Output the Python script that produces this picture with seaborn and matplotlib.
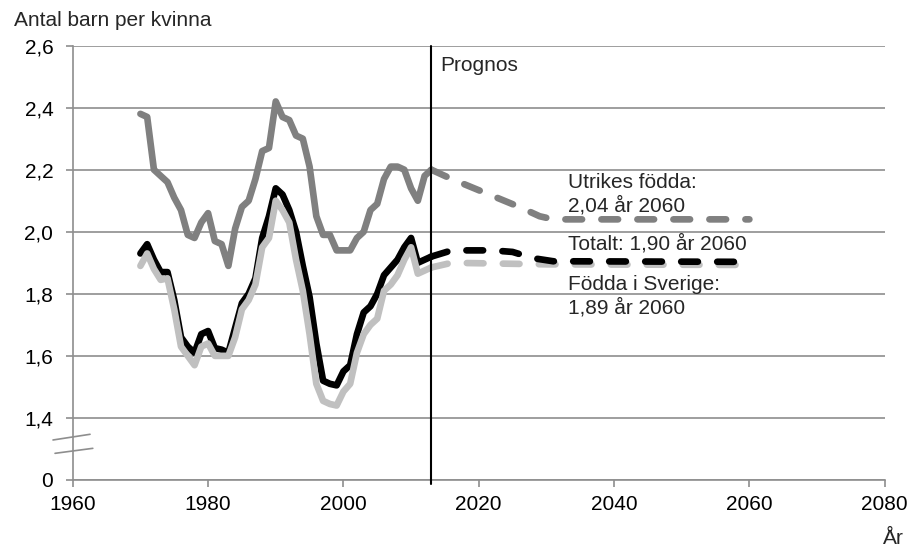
import matplotlib.pyplot as plt
import seaborn as sns
from matplotlib.lines import Line2D

# Historical fertility rates 1970-2013
years_hist = list(range(1970, 2014))
utrikes_hist = [2.38, 2.37, 2.20, 2.18, 2.16, 2.11, 2.07, 1.99, 1.98, 2.03,
                2.06, 1.97, 1.96, 1.89, 2.01, 2.08, 2.10, 2.17, 2.26, 2.27,
                2.42, 2.37, 2.36, 2.31, 2.30, 2.21, 2.05, 1.99, 1.99, 1.94,
                1.94, 1.94, 1.98, 2.00, 2.07, 2.09, 2.17, 2.21, 2.21, 2.20,
                2.14, 2.10, 2.18, 2.20]
totalt_hist = [1.93, 1.96, 1.91, 1.87, 1.87, 1.78, 1.66, 1.63, 1.61, 1.67,
               1.68, 1.625, 1.62, 1.61, 1.69, 1.77, 1.80, 1.85, 1.98, 2.05,
               2.14, 2.12, 2.07, 2.00, 1.89, 1.79, 1.64, 1.52, 1.51, 1.505,
               1.55, 1.57, 1.67, 1.74, 1.76, 1.80, 1.86, 1.885, 1.91, 1.95,
               1.98, 1.90, 1.91, 1.92]
sverige_hist = [1.89, 1.93, 1.88, 1.845, 1.85, 1.75, 1.63, 1.60, 1.57, 1.63,
                1.64, 1.60, 1.60, 1.60, 1.66, 1.75, 1.78, 1.83, 1.95, 1.98,
                2.10, 2.07, 2.03, 1.91, 1.81, 1.67, 1.51, 1.455, 1.445, 1.44,
                1.485, 1.51, 1.61, 1.67, 1.70, 1.72, 1.81, 1.83, 1.86, 1.91,
                1.95, 1.865, 1.875, 1.885]

# Forecast (prognos) 2013-2060
utrikes_prog_years = [2013, 2016, 2021, 2026, 2029, 2031, 2060]
utrikes_prog = [2.20, 2.17, 2.125, 2.08, 2.05, 2.04, 2.04]
totalt_prog_years = [2013, 2016, 2022, 2025, 2028, 2031, 2060]
totalt_prog = [1.92, 1.94, 1.94, 1.935, 1.915, 1.905, 1.903]
sverige_prog_years = [2013, 2016, 2030, 2060]
sverige_prog = [1.885, 1.90, 1.895, 1.893]

x_ticks = [1960, 1980, 2000, 2020, 2040, 2060, 2080]
y_ticks = [1.2, 1.4, 1.6, 1.8, 2.0, 2.2, 2.4, 2.6]
y_tick_labels = ["0", "1,4", "1,6", "1,8", "2,0", "2,2", "2,4", "2,6"]

sns.set_style("ticks")
plt.rcParams["font.family"] = ["Liberation Sans", "DejaVu Sans"]

c_utr = "#808080"
c_tot = "#000000"
c_sve = "#c0c0c0"
c_grid = "#8e8e8e"
dash = (0, (2.5, 2.9))
fs = 15

fig = plt.figure(figsize=(9.15, 5.48), dpi=100)
ax = fig.add_axes([0.0795, 0.1241, 0.8874, 0.7927])

common = dict(lw=4.8, solid_capstyle="round", solid_joinstyle="round",
              dash_capstyle="round", dash_joinstyle="round",
              estimator=None, legend=False, ax=ax)

sns.lineplot(x=years_hist, y=utrikes_hist, color=c_utr, zorder=3, **common)
sns.lineplot(x=years_hist, y=totalt_hist, color=c_tot, zorder=3, **common)
sns.lineplot(x=years_hist, y=sverige_hist, color=c_sve, zorder=3, **common)

sns.lineplot(x=utrikes_prog_years, y=utrikes_prog, color=c_utr,
             linestyle=dash, zorder=3, **common)
sns.lineplot(x=sverige_prog_years, y=sverige_prog, color=c_sve,
             linestyle=dash, zorder=3, **common)
sns.lineplot(x=totalt_prog_years, y=totalt_prog, color=c_tot,
             linestyle=dash, zorder=3, **common)

ax.axvline(2013, ymin=-0.01, ymax=1, color="black", lw=1.5, zorder=4,
           clip_on=False)

ax.set_xlim(1960, 2080)
ax.set_ylim(1.2, 2.6)
ax.set_xticks(x_ticks)
ax.set_xticklabels([str(x) for x in x_ticks])
ax.set_yticks(y_ticks)
ax.set_yticklabels(y_tick_labels)
ax.yaxis.grid(True, color=c_grid, lw=1.2, zorder=0)
ax.set_axisbelow(True)

sns.despine(ax=ax, top=True, right=True)
for side in ["left", "bottom"]:
    ax.spines[side].set_color(c_grid)
    ax.spines[side].set_linewidth(1.2)
ax.tick_params(axis="both", direction="out", length=5, width=1.2,
               color=c_grid, labelsize=fs, labelcolor="black")
ax.tick_params(axis="y", pad=9)
ax.tick_params(axis="x", pad=6)
ax.set_xlabel("")
ax.set_ylabel("")

# axis break marks
for (x0, y0, x1, y1) in [(-0.0243, 0.0921, 0.0213, 0.1052),
                         (-0.0218, 0.0614, 0.0247, 0.0729)]:
    ax.add_line(Line2D([x0, x1], [y0, y1], transform=ax.transAxes,
                       color=c_grid, lw=1.2, clip_on=False, zorder=5))

ax.text(2014.3, 2.519, "Prognos", fontsize=fs, ha="left", va="baseline")
ax.text(2033.2, 2.140, "Utrikes födda:", fontsize=fs, ha="left", va="baseline")
ax.text(2033.2, 2.065, "2,04 år 2060", fontsize=fs, ha="left", va="baseline")
ax.text(2033.2, 1.942, "Totalt: 1,90 år 2060", fontsize=fs,
        ha="left", va="baseline")
ax.text(2033.2, 1.813, "Födda i Sverige:", fontsize=fs,
        ha="left", va="baseline")
ax.text(2033.2, 1.738, "1,89 år 2060", fontsize=fs, ha="left", va="baseline")

fig.text(0.0153, 0.9526, "Antal barn per kvinna", fontsize=fs,
         ha="left", va="baseline")
fig.text(0.965, 0.008, "År", fontsize=fs, ha="left", va="baseline")

fig.savefig("out.png", dpi=100)
